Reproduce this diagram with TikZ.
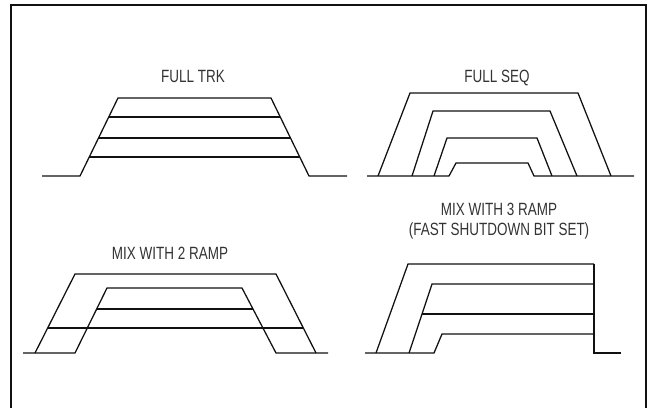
\documentclass[tikz,border=0pt]{standalone}
\usepackage{fontspec}
\newfontfamily\ttlfont{Liberation Sans}[FakeStretch=0.76]
\usepackage{tikz}
\usetikzlibrary{positioning}
\definecolor{Ink}  {HTML}{111111}
\definecolor{TxtG} {HTML}{333333}
\tikzset{
  wave/.style={
    draw=Ink, line width=0.95pt, line join=miter,
  },
  frm/.style={
    draw=Ink, line width=1.5pt,
  },
  ttl/.style={
    font=\ttlfont\fontsize{13.3}{15}\selectfont, text=TxtG,
    align=center, inner sep=0pt, anchor=base,
  },
}
\begin{document}
\begin{tikzpicture}[x=0.75pt,y=-0.75pt]
    \useasboundingbox (0,0) rectangle (649,408);
    \draw[frm] (10.5,408) -- (10.5,5) -- (645.5,5) -- (645.5,408);

    % full tracking
    \node[ttl] (trk) at (193,82) {FULL TRK};
    \draw[wave] (42,176) -- (80,176) -- (118,98) -- (271,98) -- (309,176) -- (347,176);
    \foreach \y/\xl/\xr in {117/108.7/280.3, 138/98.5/290.5, 157/89.3/299.7}{
      \draw[wave] (\xl,\y) -- (\xr,\y);
    }

    % full sequence
    \node[ttl] (seq) at (497,82) {FULL SEQ};
    \draw[wave] (378,176) -- (410,93) -- (578,93) -- (611,176);
    \draw[wave] (412,176) -- (433,111) -- (550,111) -- (577,176);
    \draw[wave] (434,176) -- (447,138) -- (537,138) -- (552,176);
    \draw[wave] (367,176) -- (449,176) -- (456,163) -- (528,163) -- (534,176) -- (634,176);

    % mix, two ramps
    \node[ttl] (mixa) at (170,259) {MIX WITH 2 RAMP};
    \draw[wave] (35,353) -- (75,274) -- (276,274) -- (316,353);
    \draw[wave] (23,353) -- (75,353) -- (107,288) -- (242,288) -- (276,353) -- (328,353);
    \draw[wave] (96.7,309) -- (253,309);
    \draw[wave] (47.7,328) -- (303.3,328);

    % mix, three ramps
    \node[ttl] (mixb) at (499,235) {MIX WITH 3 RAMP\\(FAST SHUTDOWN BIT SET)};
    \draw[wave] (365,353) -- (434,353) -- (442,334) -- (594,334);
    \draw[wave] (376,353) -- (408,264) -- (594,264);
    \draw[wave] (409,353) -- (432,284) -- (594,284);
    \draw[wave] (422,314) -- (594,314);
    \draw[wave] (594,264) -- (594,353) -- (621,353);

\end{tikzpicture}
\end{document}
